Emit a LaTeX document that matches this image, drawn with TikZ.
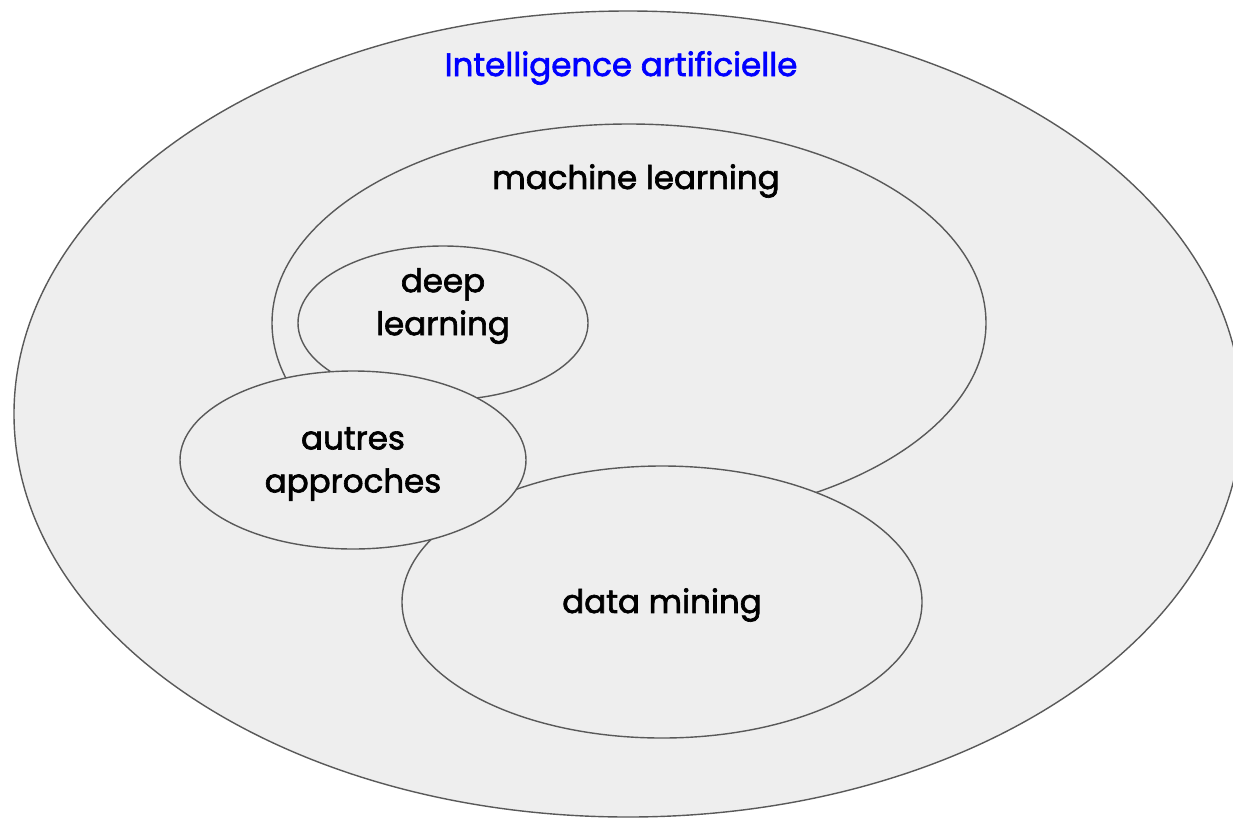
\documentclass[tikz,border=0pt]{standalone}
\usepackage{fontspec}
\setmainfont{Poppins}
\newfontfamily\lblfont{Poppins}[FakeBold=2]
\usetikzlibrary{shapes.geometric}
\definecolor{fillgray}{HTML}{EEEEEE}
\definecolor{linegray}{HTML}{595959}
\definecolor{aiblue}{HTML}{0000FF}
\tikzset{
  blob/.style={ellipse, draw=linegray, fill=fillgray, line width=1.4pt, inner sep=0pt},
  lbl/.style={font=\lblfont\fontsize{32.5}{43}\selectfont, text=black, align=center, inner sep=0pt},
}
\begin{document}
\begin{tikzpicture}[x=1pt,y=-1pt]
\clip (0,0) rectangle (1233,817);
\fill[white] (0,0) rectangle (1233,817);
\node[blob, minimum width=1228pt, minimum height=806pt] (ai) at (628,414) {};
\node[blob, minimum width=714pt, minimum height=398pt] (ml) at (629,323) {};
\node[blob, minimum width=290pt, minimum height=154pt] (dl) at (443,323) {};
\node[blob, minimum width=520pt, minimum height=272pt] (dm) at (662,602) {};
\node[blob, minimum width=346pt, minimum height=178pt] (aa) at (353,460) {};
\node[lbl, text=aiblue] (tai) at (621,68) {Intelligence artificielle};
\node[lbl] (tml) at (636,181) {machine learning};
\node[lbl] (tdl) at (443,306) {deep\\learning};
\node[lbl] (taa) at (353,464) {autres\\approches};
\node[lbl] (tdm) at (662,605) {data mining};
\end{tikzpicture}
\end{document}
